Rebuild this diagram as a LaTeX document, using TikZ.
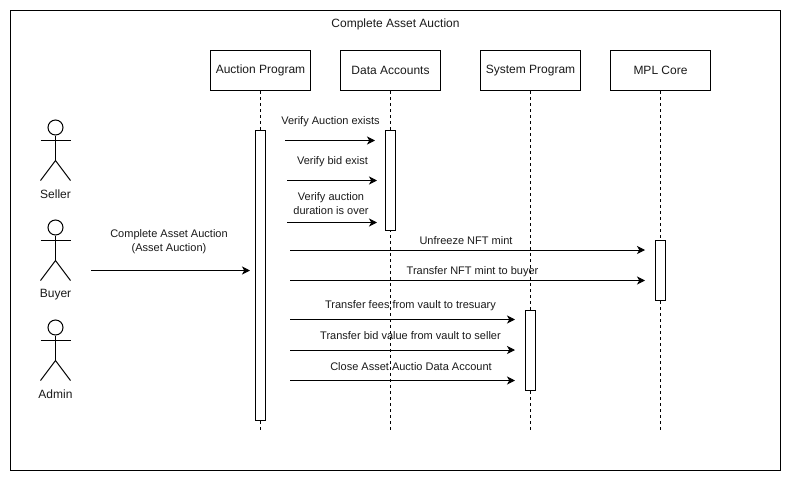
\documentclass[tikz,border=0pt]{standalone}
\usepackage{fontspec}
\setmainfont{Liberation Sans}
\usetikzlibrary{arrows.meta}
\definecolor{ink}{HTML}{1A1A1A}
\tikzset{
  frame/.style={draw=black,line width=1pt},
  partbox/.style={draw=black,line width=1pt,minimum width=100pt,minimum height=40pt,inner sep=0pt,font=\fontsize{12}{14}\selectfont,text=ink},
  lifeline/.style={draw=black,line width=1pt,dash pattern=on 3pt off 3pt},
  activation/.style={draw=black,fill=white,line width=1pt,minimum width=10pt,inner sep=0pt},
  msg/.style={draw=black,line width=1pt,-{Stealth[length=8pt,width=8pt,inset=2.2pt]}},
  msglabel/.style={inner sep=0pt,align=center,text=ink,font=\fontsize{11}{14}\selectfont},
  titlelabel/.style={inner sep=0pt,text=ink,font=\fontsize{12}{14}\selectfont},
  actorhead/.style={draw=black,line width=1pt,circle,minimum size=15pt,inner sep=0pt},
  actorline/.style={draw=black,line width=1pt},
  actorlabel/.style={inner sep=0pt,text=ink,font=\fontsize{12}{14}\selectfont},
}
\newcommand{\actorfigure}[3]{% name, top y, label
  \node[actorhead] (#1head) at (55.5,#2+7.5) {};
  \coordinate (#1arml) at (40.5,#2+20.5);
  \coordinate (#1armr) at (70.5,#2+20.5);
  \coordinate (#1hip) at (55.5,#2+40.5);
  \coordinate (#1legl) at (40.5,#2+60.5);
  \coordinate (#1legr) at (70.5,#2+60.5);
  \draw[actorline] (#1head.south) -- (#1hip);
  \draw[actorline] (#1arml) -- (#1armr);
  \draw[actorline] (#1legl) -- (#1hip) -- (#1legr);
  \node[actorlabel] (#1label) at (55.5,#2+74.5) {#3};
}
\begin{document}
\begin{tikzpicture}[x=1pt,y=-1pt]
\useasboundingbox (0,0) rectangle (792,482);
\fill[white] (0,0) rectangle (792,482);
\draw[frame] (10.5,10.5) rectangle (780.5,470.5);
\node[titlelabel] (title) at (395.5,24.5) {Complete Asset Auction};

% participants
\node[partbox] (ap) at (260.5,70.5) {Auction Program};
\node[partbox] (da) at (390.5,70.5) {Data Accounts};
\node[partbox] (sp) at (530.5,70.5) {System Program};
\node[partbox] (mc) at (660.5,70.5) {MPL Core};

% lifeline ends
\coordinate (apend) at (260.5,430);
\coordinate (daend) at (390.5,430);
\coordinate (spend) at (530.5,430);
\coordinate (mcend) at (660.5,430);
\draw[lifeline] (ap.south) -- (apend);
\draw[lifeline] (da.south) -- (daend);
\draw[lifeline] (sp.south) -- (spend);
\draw[lifeline] (mc.south) -- (mcend);

% activations
\node[activation,minimum height=290pt] (apact) at (260.5,275.5) {};
\node[activation,minimum height=100pt] (daact) at (390.5,180.5) {};
\node[activation,minimum height=80pt] (spact) at (530.5,350.5) {};
\node[activation,minimum height=60pt] (mcact) at (660.5,270.5) {};

% actors
\actorfigure{seller}{120}{Seller}
\actorfigure{buyer}{220}{Buyer}
\actorfigure{admin}{320}{Admin}

% message end points
\coordinate (m0s) at (91,270.5);    \coordinate (m0e) at (250,270.5);
\coordinate (m1s) at (285,140.5);   \coordinate (m1e) at (375,140.5);
\coordinate (m2s) at (287,180.5);   \coordinate (m2e) at (377,180.5);
\coordinate (m3s) at (287,222.5);   \coordinate (m3e) at (377,222.5);
\coordinate (m4s) at (290,250);     \coordinate (m4e) at (645,250);
\coordinate (m5s) at (290,280.5);   \coordinate (m5e) at (645,280.5);
\coordinate (m6s) at (290,319.5);   \coordinate (m6e) at (515,319.5);
\coordinate (m7s) at (290,350);     \coordinate (m7e) at (515,350);
\coordinate (m8s) at (290,380.5);   \coordinate (m8e) at (515,380.5);
\foreach \m in {m0,m1,m2,m3,m4,m5,m6,m7,m8}{\draw[msg] (\m s) -- (\m e);}

% message labels
\node[msglabel] (l0) at (169,242) {Complete Asset Auction\\(Asset Auction)};
\node[msglabel] (l1) at (330.5,122) {Verify Auction exists};
\node[msglabel] (l2) at (332.5,162) {Verify bid exist};
\node[msglabel] (l3) at (331,204) {Verify auction\\duration is over};
\node[msglabel] (l4) at (466,241) {Unfreeze NFT mint};
\node[msglabel] (l5) at (472.5,272) {Transfer NFT mint to buyer};
\node[msglabel] (l6) at (410.5,306) {Transfer fees from vault to tresuary};
\node[msglabel] (l7) at (410.5,336) {Transfer bid value from vault to seller};
\node[msglabel] (l8) at (411,367) {Close Asset Auctio Data Account};
\end{tikzpicture}
\end{document}
